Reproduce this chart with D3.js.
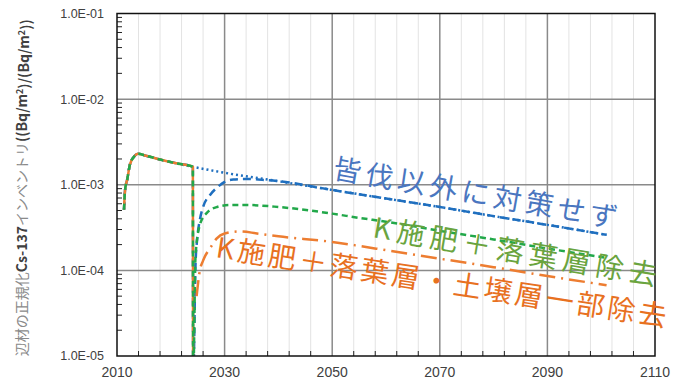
<!DOCTYPE html>
<html>
<head>
<meta charset="utf-8">
<script src="https://cdn.jsdelivr.net/npm/d3@7"></script>
<style>
  body { margin: 0; background: #fff; }
  svg { display: block; }
</style>
</head>
<body>
<div id="chart"></div>
<script>
// --- data ---
const yTickLabels = ["1.0E-05", "1.0E-04", "1.0E-03", "1.0E-02", "1.0E-01"];
const xTickLabels = ["2010", "2030", "2050", "2070", "2090", "2110"];

// before the countermeasure (shared by every scenario)
const preYears = [2011.3, 2011.5, 2011.9, 2012.4, 2013.2, 2013.9, 2015.2, 2018, 2021, 2024.1];
const preVals  = [5.1e-4, 8.7e-4, 1.15e-3, 1.72e-3, 2.14e-3, 2.3e-3, 2.2e-3, 1.97e-3, 1.78e-3, 1.62e-3];

// no countermeasure (blue dotted)
const noneYears = [2030, 2040, 2050, 2060, 2070, 2080, 2090, 2101];
const noneVals  = [1.38e-3, 1.1e-3, 8.7e-4, 6.9e-4, 5.5e-4, 4.3e-4, 3.4e-4, 2.6e-4];

// clear-cut only (blue dashed)
const cutYears = [2024.15, 2024.6, 2024.9, 2025.4, 2026, 2027.3, 2028.8, 2030, 2031.6, 2034, 2037, 2040, 2050, 2060, 2070, 2080, 2090, 2101];
const cutVals  = [5e-6, 1.2e-4, 2.3e-4, 3.9e-4, 5.5e-4, 7.6e-4, 9.5e-4, 1.08e-3, 1.15e-3, 1.17e-3, 1.14e-3, 1.1e-3, 8.7e-4, 6.9e-4, 5.5e-4, 4.3e-4, 3.4e-4, 2.6e-4];

// K fertiliser + litter removal (green dashed)
const kYears = [2024.15, 2024.6, 2025.4, 2026.7, 2028.6, 2031, 2034, 2040, 2050, 2055, 2060, 2070, 2080, 2090, 2101];
const kVals  = [5e-6, 1.5e-4, 3.4e-4, 4.7e-4, 5.5e-4, 5.8e-4, 5.8e-4, 5.5e-4, 4.6e-4, 4.1e-4, 3.7e-4, 2.9e-4, 2.3e-4, 1.8e-4, 1.4e-4];

// K fertiliser + litter + part of soil removal (orange dash-dot)
const soilYears = [2024.8, 2025.4, 2026, 2027.5, 2028.5, 2030, 2033, 2036, 2040, 2050, 2055, 2060, 2070, 2080, 2090, 2101];
const soilVals  = [5e-5, 1.0e-4, 1.3e-4, 1.9e-4, 2.35e-4, 2.7e-4, 2.85e-4, 2.7e-4, 2.5e-4, 2.15e-4, 1.93e-4, 1.72e-4, 1.37e-4, 1.09e-4, 8.6e-5, 6.7e-5];

const labelNone = "皆伐以外に対策せず";
const labelK = "K施肥＋落葉層除去";
const labelSoil = "K施肥＋落葉層・土壌層一部除去";

const width = 673, height = 383;
const plotLeft = 117, plotRight = 655, plotTop = 13.5, plotBottom = 356;

const svg = d3.select("#chart").append("svg")
  .attr("width", width)
  .attr("height", height);

const x = d3.scaleLinear().domain([2010, 2110]).range([plotLeft, plotRight]);
const y = d3.scaleLog().domain([1e-5, 1e-1]).range([plotBottom, plotTop]);

const zip = (xs, vs) => xs.map((d, i) => ({ year: d, v: vs[i] }));

// gridlines
const minorYears = d3.range(2014, 2110, 4).filter(d => (d - 2010) % 20 !== 0);
svg.append("g").selectAll("line")
  .data(minorYears)
  .enter().append("line")
  .attr("x1", d => x(d)).attr("x2", d => x(d))
  .attr("y1", plotTop).attr("y2", plotBottom)
  .attr("stroke", "#e3e3e3").attr("stroke-width", 1);

svg.append("g").selectAll("line")
  .data([2030, 2050, 2070, 2090])
  .enter().append("line")
  .attr("x1", d => x(d)).attr("x2", d => x(d))
  .attr("y1", plotTop).attr("y2", plotBottom)
  .attr("stroke", "#8a8a8a").attr("stroke-width", 1.5);

svg.append("g").selectAll("line")
  .data([1e-4, 1e-3, 1e-2])
  .enter().append("line")
  .attr("x1", plotLeft).attr("x2", plotRight)
  .attr("y1", d => y(d)).attr("y2", d => y(d))
  .attr("stroke", "#8a8a8a").attr("stroke-width", 1.5);

// minor ticks, inside
const logMinor = [];
[1e-5, 1e-4, 1e-3, 1e-2].forEach(p => d3.range(2, 10).forEach(k => logMinor.push(p * k)));
svg.append("g").selectAll("line")
  .data(logMinor)
  .enter().append("line")
  .attr("x1", plotLeft).attr("x2", plotLeft + 5)
  .attr("y1", d => y(d)).attr("y2", d => y(d))
  .attr("stroke", "#222").attr("stroke-width", 1);

svg.append("g").selectAll("line")
  .data(minorYears)
  .enter().append("line")
  .attr("x1", d => x(d)).attr("x2", d => x(d))
  .attr("y1", plotBottom).attr("y2", plotBottom - 5)
  .attr("stroke", "#222").attr("stroke-width", 1);

// clip for lines that dive below the axis
svg.append("clipPath").attr("id", "plot")
  .append("rect")
  .attr("x", plotLeft).attr("y", plotTop)
  .attr("width", plotRight - plotLeft).attr("height", plotBottom - plotTop);

const line = d3.line()
  .x(d => x(d.year))
  .y(d => y(d.v))
  .curve(d3.curveMonotoneX);

const plot = svg.append("g").attr("clip-path", "url(#plot)");

const series = [
  { pts: zip(preYears, preVals).concat(zip(noneYears, noneVals)), color: "#1f6fbf", dash: "2,3" },
  { pts: zip(preYears, preVals).concat(zip(cutYears, cutVals)), color: "#1f6fbf", dash: "8,5" },
  { pts: zip(preYears, preVals).concat(zip([2024.15], [5e-6])), color: "#ed7d31", dash: null },
  { pts: zip(preYears, preVals).concat(zip(kYears, kVals)), color: "#22a84a", dash: "6,4" },
  { pts: zip(soilYears, soilVals), color: "#ed7d31", dash: "16,6,2,6" }
];

plot.selectAll("path.series")
  .data(series)
  .enter().append("path")
  .attr("class", "series")
  .attr("d", d => line(d.pts))
  .attr("fill", "none")
  .attr("stroke", d => d.color)
  .attr("stroke-width", 2.5)
  .attr("stroke-dasharray", d => d.dash);

// frame
svg.append("rect")
  .attr("x", plotLeft).attr("y", plotTop)
  .attr("width", plotRight - plotLeft).attr("height", plotBottom - plotTop)
  .attr("fill", "none")
  .attr("stroke", "#111").attr("stroke-width", 1.5);

// tick labels
svg.append("g").selectAll("text")
  .data(yTickLabels)
  .enter().append("text")
  .attr("x", 104)
  .attr("y", (d, i) => y(Math.pow(10, i - 5)))
  .attr("dy", "0.35em")
  .attr("text-anchor", "end")
  .style("font-family", "'Liberation Sans', Arial, sans-serif")
  .style("font-size", "12.5px")
  .style("fill", "#404040")
  .text(d => d);

svg.append("g").selectAll("text")
  .data(xTickLabels)
  .enter().append("text")
  .attr("x", d => x(+d))
  .attr("y", 377)
  .attr("text-anchor", "middle")
  .style("font-family", "'Liberation Sans', Arial, sans-serif")
  .style("font-size", "14px")
  .style("fill", "#404040")
  .text(d => d);

// y axis title
const yTitle = svg.append("text")
  .attr("transform", "translate(27," + ((plotTop + plotBottom) / 2 + 3) + ") rotate(-90)")
  .attr("text-anchor", "middle")
  .style("font-family", "'Noto Sans CJK JP', sans-serif")
  .style("font-size", "14px");
const parts = [
  ["辺材の正規化", false, null],
  ["Cs-137", true, null],
  ["インベントリ", false, null],
  ["((Bq/m", true, null], ["2", true, "sup"], [")/(Bq/m", true, "back"], ["2", true, "sup"], ["))", true, "back"]
];
parts.forEach(p => {
  const t = yTitle.append("tspan")
    .style("fill", p[1] ? "#404040" : "#8a8a8a")
    .style("font-weight", p[1] ? "bold" : "normal")
    .text(p[0]);
  if (p[2] === "sup") t.attr("dy", "-0.4em").style("font-size", "9px");
  if (p[2] === "back") t.attr("dy", "0.4em");
});

// scenario labels
const labels = [
  { text: labelNone, xPos: 332, yPos: 178, angle: 10, len: 288, color: "#4a76c0" },
  { text: labelK, xPos: 372, yPos: 237, angle: 9.7, len: 287, color: "#6aa43e" },
  { text: labelSoil, xPos: 215, yPos: 257, angle: 8.8, len: 455, color: "#e8711f" }
];
svg.append("g").selectAll("text")
  .data(labels)
  .enter().append("text")
  .attr("transform", d => "translate(" + d.xPos + "," + d.yPos + ") rotate(" + d.angle + ")")
  .attr("textLength", d => d.len)
  .attr("lengthAdjust", "spacing")
  .style("font-family", "'Noto Sans CJK JP', sans-serif")
  .style("font-size", "28px")
  .style("fill", d => d.color)
  .text(d => d.text);
</script>
</body>
</html>
